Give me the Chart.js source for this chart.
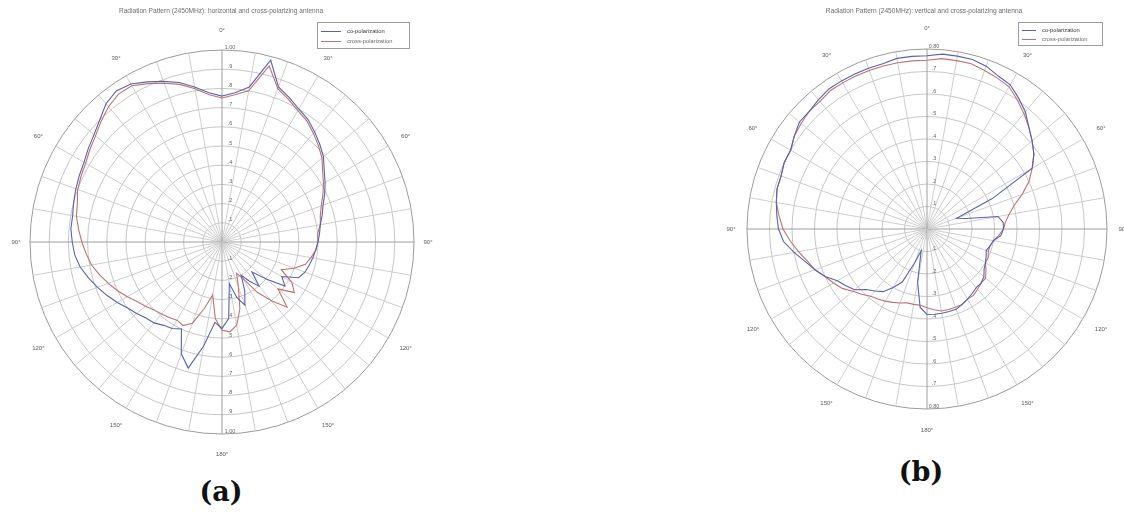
<!DOCTYPE html>
<html>
<head>
<meta charset="utf-8">
<script src="https://cdn.jsdelivr.net/npm/chart.js@4.4.1/dist/chart.umd.min.js"></script>
<style>
  html, body { margin: 0; padding: 0; background: #fff; width: 1124px; height: 515px; overflow: hidden; }
  .panel { position: absolute; }
  .tag { position: absolute; font-family: "DejaVu Serif", "Liberation Serif", serif; font-weight: bold;
         font-size: 27px; line-height: 31px; color: #111; transform: translateX(-50%); }
</style>
</head>
<body>
<div class="panel" style="left:0;top:0;width:450px;height:470px"><canvas id="chartA" width="450" height="470"></canvas></div>
<div class="panel" style="left:700px;top:0;width:424px;height:440px"><canvas id="chartB" width="424" height="440"></canvas></div>
<div class="tag" style="left:221px;top:476px">(a)</div>
<div class="tag" style="left:921px;top:456px">(b)</div>
<script>
// Measurement angles (degrees, clockwise from 0° at the top)
const angles = [
  0, 5, 10, 15, 20, 25, 30, 35, 40, 45, 50, 55, 60, 65, 70, 75, 80, 85,
  90, 95, 100, 105, 110, 115, 120, 125, 130, 135, 140, 145, 150, 155, 160, 165, 170, 175,
  180, 185, 190, 195, 200, 205, 210, 215, 220, 225, 230, 235, 240, 245, 250, 255, 260, 265,
  270, 275, 280, 285, 290, 295, 300, 305, 310, 315, 320, 325, 330, 335, 340, 345, 350, 355
];

const seriesNames = ['co-polarization', 'cross-polarization'];

// (a) horizontal antenna, normalised amplitude
const horizCo = [
  0.76, 0.78, 0.82, 0.98, 0.86, 0.83, 0.80, 0.78, 0.75, 0.72, 0.69, 0.65, 0.62, 0.59, 0.56, 0.54, 0.52, 0.51,
  0.50, 0.49, 0.48, 0.47, 0.46, 0.44, 0.36, 0.40, 0.30, 0.22, 0.30, 0.25, 0.20, 0.28, 0.35, 0.30, 0.22, 0.40,
  0.45, 0.42, 0.55, 0.68, 0.62, 0.50, 0.52, 0.53, 0.55, 0.56, 0.58, 0.60, 0.63, 0.66, 0.69, 0.72, 0.75, 0.77,
  0.78, 0.79, 0.79, 0.80, 0.81, 0.82, 0.83, 0.85, 0.87, 0.90, 0.94, 0.96, 0.95, 0.92, 0.89, 0.86, 0.82, 0.78
];
const horizCross = [
  0.75, 0.77, 0.80, 0.95, 0.85, 0.82, 0.79, 0.77, 0.74, 0.71, 0.68, 0.64, 0.61, 0.58, 0.55, 0.53, 0.52, 0.50,
  0.50, 0.49, 0.47, 0.45, 0.40, 0.34, 0.42, 0.46, 0.38, 0.48, 0.40, 0.32, 0.22, 0.18, 0.25, 0.36, 0.44, 0.47,
  0.46, 0.40, 0.28, 0.36, 0.45, 0.48, 0.47, 0.48, 0.49, 0.50, 0.52, 0.54, 0.57, 0.60, 0.63, 0.66, 0.69, 0.71,
  0.73, 0.75, 0.77, 0.78, 0.80, 0.81, 0.82, 0.84, 0.86, 0.89, 0.92, 0.94, 0.94, 0.91, 0.88, 0.85, 0.81, 0.77
];

// (b) vertical antenna, normalised amplitude
const vertCo = [
  0.77, 0.78, 0.78, 0.78, 0.77, 0.75, 0.74, 0.71, 0.68, 0.64, 0.61, 0.58, 0.54, 0.32, 0.14, 0.18, 0.32, 0.34,
  0.34, 0.33, 0.30, 0.29, 0.28, 0.29, 0.30, 0.31, 0.33, 0.34, 0.34, 0.35, 0.36, 0.37, 0.38, 0.38, 0.38, 0.38,
  0.38, 0.35, 0.24, 0.10, 0.16, 0.26, 0.30, 0.34, 0.36, 0.38, 0.42, 0.44, 0.46, 0.50, 0.53, 0.56, 0.60, 0.64,
  0.66, 0.67, 0.68, 0.69, 0.69, 0.70, 0.70, 0.72, 0.74, 0.74, 0.75, 0.76, 0.76, 0.76, 0.76, 0.76, 0.77, 0.77
];
const vertCross = [
  0.75, 0.76, 0.76, 0.76, 0.75, 0.74, 0.73, 0.70, 0.67, 0.64, 0.61, 0.58, 0.54, 0.50, 0.45, 0.40, 0.37, 0.35,
  0.34, 0.32, 0.30, 0.29, 0.29, 0.30, 0.30, 0.32, 0.34, 0.34, 0.35, 0.36, 0.36, 0.37, 0.37, 0.37, 0.37, 0.36,
  0.35, 0.34, 0.34, 0.34, 0.35, 0.36, 0.37, 0.38, 0.39, 0.41, 0.43, 0.46, 0.48, 0.50, 0.53, 0.55, 0.58, 0.61,
  0.64, 0.66, 0.68, 0.69, 0.69, 0.70, 0.70, 0.72, 0.73, 0.74, 0.74, 0.75, 0.75, 0.75, 0.75, 0.75, 0.75, 0.75
];

// Angle captions every 30°, mirrored on both halves
const angleCaptions = ['0°', '30°', '60°', '90°', '120°', '150°', '180°', '150°', '120°', '90°', '60°', '30°'];

// Ring values and their captions
const ringValuesA = [0.1, 0.2, 0.3, 0.4, 0.5, 0.6, 0.7, 0.8, 0.9, 1.0];
const ringCaptionsA = ['.1', '.2', '.3', '.4', '.5', '.6', '.7', '.8', '.9', '1.00'];
const ringValuesB = [0.1, 0.2, 0.3, 0.4, 0.5, 0.6, 0.7, 0.8];
const ringCaptionsB = ['.1', '.2', '.3', '.4', '.5', '.6', '.7', '0.80'];

const BLUE = '#5763ad';
const RED = '#bf7272';
const SANS = '"Liberation Sans", Arial, sans-serif';

// Draws the title, legend box, angle captions and ring captions
const polarDecor = {
  id: 'polarDecor',
  afterDraw(chart, args, o) {
    const { ctx } = chart;
    const s = chart.scales.r;
    ctx.save();
    ctx.textAlign = 'center';
    ctx.textBaseline = 'middle';

    // title
    ctx.font = `6.6px ${SANS}`;
    ctx.fillStyle = '#6e6e6e';
    ctx.fillText(o.title, o.titleX, o.titleY);

    // angle captions
    ctx.font = `6px ${SANS}`;
    ctx.fillStyle = '#5a5a5a';
    angleCaptions.forEach((t, k) => {
      const off = (k === 3 || k === 9) ? o.sideOffset : o.labelOffset;
      const p = s.getPointPosition(k * 6, s.drawingArea + off);
      ctx.fillText(t, p.x, p.y);
    });

    // ring captions along the vertical axis, up and down
    ctx.font = `5.5px ${SANS}`;
    ctx.fillStyle = '#666';
    o.ringValues.forEach((v, k) => {
      const d = s.getDistanceFromCenterForValue(v);
      ctx.fillText(o.ringCaptions[k], s.xCenter + o.tickDx, s.yCenter - d - 3);
      ctx.fillText(o.ringCaptions[k], s.xCenter + o.tickDx, s.yCenter + d - 3);
    });

    // legend box
    const L = o.legend;
    ctx.strokeStyle = '#9c9c9c';
    ctx.lineWidth = 1;
    ctx.strokeRect(L.x + 0.5, L.y + 0.5, L.w, L.h);
    ctx.textAlign = 'left';
    ctx.font = `5.8px ${SANS}`;
    chart.data.datasets.forEach((ds, i) => {
      const y = Math.round(L.y + L.h * (i === 0 ? 0.36 : 0.72)) + 0.5;
      ctx.strokeStyle = ds.borderColor;
      ctx.beginPath();
      ctx.moveTo(L.x + 4, y);
      ctx.lineTo(L.x + L.lineLen, y);
      ctx.stroke();
      ctx.fillStyle = i === 0 ? '#3a3a3a' : '#6a6a6a';
      ctx.fillText(ds.label, L.x + L.lineLen + 6, y);
    });
    ctx.restore();
  }
};

function polarChart(canvasId, coValues, crossValues, maxValue, padding, decor) {
  return new Chart(document.getElementById(canvasId), {
    type: 'radar',
    data: {
      labels: angles,
      datasets: [
        { label: seriesNames[0], data: coValues, borderColor: BLUE, borderWidth: 1.1,
          pointRadius: 0, fill: false, tension: 0 },
        { label: seriesNames[1], data: crossValues, borderColor: RED, borderWidth: 1.1,
          pointRadius: 0, fill: false, tension: 0 }
      ]
    },
    options: {
      responsive: false,
      devicePixelRatio: 1,
      animation: false,
      events: [],
      layout: { padding },
      plugins: {
        legend: { display: false },
        title: { display: false },
        tooltip: { enabled: false },
        polarDecor: decor
      },
      scales: {
        r: {
          min: 0,
          max: maxValue,
          ticks: { display: false, stepSize: 0.1 },
          pointLabels: { display: false },
          grid: {
            circular: true,
            lineWidth: 1,
            color: (c) => (c.tick && Math.abs(c.tick.value - maxValue) < 1e-6) ? '#9a9a9a' : '#c6c6c6'
          },
          angleLines: {
            display: true,
            lineWidth: (c) => (c.index % 2 === 0 ? 1 : 0),
            color: (c) => (c.index % 18 === 0 ? '#9e9e9e' : '#cdcdcd')
          }
        }
      }
    },
    plugins: [polarDecor]
  });
}

polarChart('chartA', horizCo, horizCross, 1.0,
  { left: 30, top: 50, right: 36, bottom: 36 },
  {
    title: 'Radiation Pattern (2450MHz): horizontal and cross-polarizing antenna',
    titleX: 221, titleY: 11,
    labelOffset: 20, sideOffset: 14, tickDx: 8,
    ringValues: ringValuesA, ringCaptions: ringCaptionsA,
    legend: { x: 317, y: 22, w: 92, h: 26, lineLen: 24 }
  });

polarChart('chartB', vertCo, vertCross, 0.8,
  { left: 47, top: 49, right: 17, bottom: 31 },
  {
    title: 'Radiation Pattern (2450MHz): vertical and cross-polarizing antenna',
    titleX: 224, titleY: 11,
    labelOffset: 21, sideOffset: 16, tickDx: 7,
    ringValues: ringValuesB, ringCaptions: ringCaptionsB,
    legend: { x: 318, y: 22, w: 84, h: 23, lineLen: 18 }
  });
</script>
</body>
</html>
